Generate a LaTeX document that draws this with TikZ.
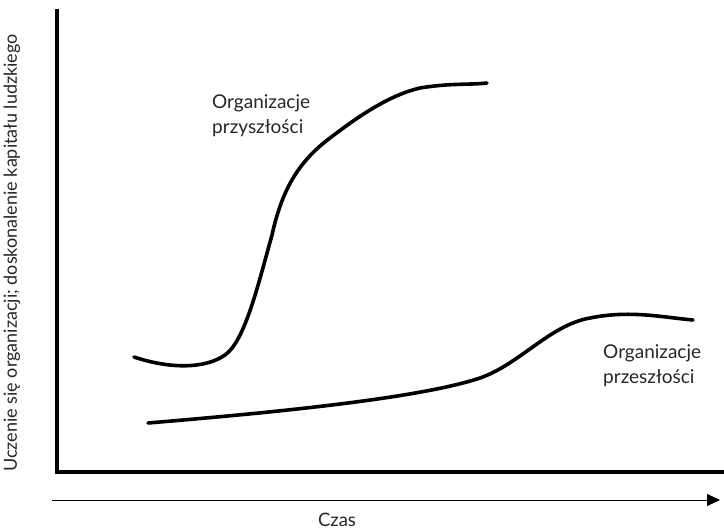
\documentclass[tikz,border=0pt]{standalone}
\usepackage{fontspec}
\setmainfont{Lato}
\usetikzlibrary{arrows.meta}
\begin{document}
\begin{tikzpicture}[x=1pt,y=-1pt,
  axis/.style={line width=4pt},
  curve/.style={line width=3.6pt,line cap=round},
  lbl/.style={inner sep=0pt,font=\fontsize{19}{25}\selectfont,align=left,text=black!85}]
\useasboundingbox (0,0) rectangle (724,532);
\coordinate (ytop) at (57,9);
\coordinate (orig) at (57,472);
\coordinate (xend) at (724,472);
\draw[axis] (ytop) -- (orig) -- (xend);
\coordinate (as) at (52,500);
\coordinate (ae) at (720,500);
\draw[line width=1pt,-{Triangle[length=13pt,width=12pt]}] (as) -- (ae);
\node[lbl,font=\fontsize{18.5}{20}\selectfont] (czas) at (337,520) {Czas};
\node[lbl,font=\fontsize{18}{20}\selectfont,rotate=90] (ylab) at (12,253) {Uczenie się organizacji; doskonalenie kapitału ludzkiego};
\draw[curve] (134,357) .. controls (170,369) and (205,369) .. (225,355)
  .. controls (245,341) and (258,285) .. (272,235)
  .. controls (282,190) and (298,162) .. (330,138)
  .. controls (360,115) and (390,95) .. (420,88)
  .. controls (450,83) and (470,85) .. (487,83);
\draw[curve] (148,423) .. controls (280,412) and (420,398) .. (480,378)
  .. controls (520,364) and (550,325) .. (590,318)
  .. controls (630,310) and (660,317) .. (693,320);
\node[lbl,anchor=north west] (fut) at (212,94) {Organizacje\\przyszłości};
\node[lbl,anchor=north west] (past) at (603,344) {Organizacje\\przeszłości};
\end{tikzpicture}
\end{document}
